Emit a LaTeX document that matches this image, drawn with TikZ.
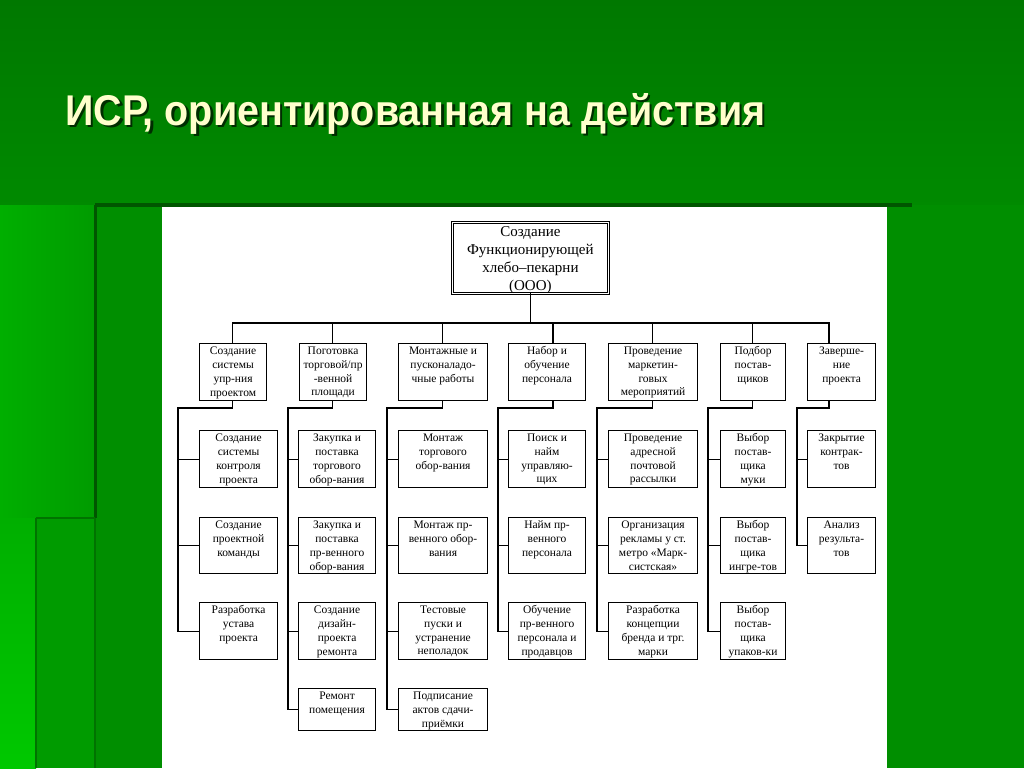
\documentclass[tikz,border=0pt]{standalone}
\usepackage{fontspec}
\usepackage{graphicx}
\setmainfont{Liberation Serif}
\newfontfamily\titlefont{Liberation Sans}
\usetikzlibrary{calc}
\definecolor{gtop}{RGB}{0,120,0}
\definecolor{gmid}{RGB}{0,138,0}
\definecolor{gleft}{RGB}{0,175,0}
\definecolor{gleftb}{RGB}{0,200,0}
\definecolor{gstrip}{RGB}{0,155,0}
\definecolor{gpanel}{RGB}{0,142,0}
\definecolor{gedge}{RGB}{0,85,0}
\definecolor{gedge2}{RGB}{0,115,0}
\definecolor{tyellow}{RGB}{255,255,204}
\definecolor{tshadow}{RGB}{0,45,0}
\tikzset{
  wb/.style={draw, line width=1.1pt, fill=white, inner sep=0pt, anchor=north west},
  tx/.style={anchor=north, align=center, inner sep=0pt, font=\fontsize{11.5}{13.9}\selectfont},
  ln/.style={line width=1.1pt, line cap=rect}
}
\newcommand\wbx[6]{%
  \node[wb, minimum width=#4pt, minimum height=#5pt] (#1) at (#2,#3) {};
  \node[tx] (#1t) at ([yshift=-3.5pt]#1.north) {#6};}
\begin{document}
\begin{tikzpicture}[x=1pt,y=-1pt]
\useasboundingbox (0,0) rectangle (1024,768);
% background
\shade[top color=gtop, bottom color=gmid] (0,0) rectangle (1024,207);
\shade[left color=gleft, right color=gstrip] (0,205) rectangle (95,518);
\shade[top color=gleft, bottom color=gleftb] (0,518) rectangle (36,768);
\fill[gstrip] (36,518) rectangle (95,768);
\fill[gpanel] (95,205) rectangle (1024,768);
\draw[gedge, line width=4pt] (95,205) -- (912,205);
\draw[gedge, line width=3pt] (95,205) -- (95,518);
\draw[gedge2, line width=2pt] (36,518) -- (95,518);
\draw[gedge2, line width=1.5pt] (36,518) -- (36,768);
\draw[gedge2, line width=1.5pt] (95,518) -- (95,768);
\fill[white] (162,207) rectangle (887,768);
% title
\node[anchor=base west, inner sep=0pt, text=tshadow, font=\titlefont\bfseries\fontsize{43}{43}\selectfont] (titleshadow) at (67.5,127.5) {\resizebox{700pt}{\height}{ИСР, ориентированная на действия}};
\node[anchor=base west, inner sep=0pt, text=tyellow, font=\titlefont\bfseries\fontsize{43}{43}\selectfont] (title) at (65,125) {\resizebox{700pt}{\height}{ИСР, ориентированная на действия}};
% top box
\node[anchor=north west, draw, double, double distance=1.6pt, line width=0.8pt, fill=white, minimum width=156pt, minimum height=71pt, inner sep=0pt] (top) at (452,222) {};
\node[anchor=north, align=center, inner sep=0pt, font=\fontsize{15}{18}\selectfont] (topt) at ([yshift=-4pt]top.north) {Создание\\Функционирующей\\хлебо–пекарни\\(ООО)};
% level 1
\wbx{L1}{199}{343}{67}{57}{Создание\\системы\\упр-ния\\проектом}
\wbx{L2}{299}{343}{67}{57}{Поготовка\\торговой/пр\\-венной\\площади}
\wbx{L3}{398}{343}{89}{57}{Монтажные и\\пусконаладо-\\чные работы}
\wbx{L4}{508}{343}{77}{57}{Набор и\\обучение\\персонала}
\wbx{L5}{608}{343}{89}{57}{Проведение\\маркетин-\\говых\\мероприятий}
\wbx{L6}{720}{343}{65}{57}{Подбор\\постав-\\щиков}
\wbx{L7}{807}{343}{68}{57}{Заверше-\\ние\\проекта}
% column 1
\wbx{A1}{199}{430}{78}{57}{Создание\\системы\\контроля\\проекта}
\wbx{A2}{199}{517}{78}{56}{Создание\\проектной\\команды}
\wbx{A3}{199}{602}{78}{57}{Разработка\\устава\\проекта}
% column 2
\wbx{B1}{298}{430}{77}{57}{Закупка и\\поставка\\торгового\\обор-вания}
\wbx{B2}{298}{517}{77}{56}{Закупка и\\поставка\\пр-венного\\обор-вания}
\wbx{B3}{298}{602}{77}{57}{Создание\\дизайн-\\проекта\\ремонта}
\wbx{B4}{298}{688}{77}{42}{Ремонт\\помещения}
% column 3
\wbx{C1}{398}{430}{89}{57}{Монтаж\\торгового\\обор-вания}
\wbx{C2}{398}{517}{89}{56}{Монтаж пр-\\венного обор-\\вания}
\wbx{C3}{398}{602}{89}{57}{Тестовые\\пуски и\\устранение\\неполадок}
\wbx{C4}{398}{688}{89}{42}{Подписание\\актов сдачи-\\приёмки}
% column 4
\wbx{D1}{508}{430}{77}{57}{Поиск и\\найм\\управляю-\\щих}
\wbx{D2}{508}{517}{77}{56}{Найм пр-\\венного\\персонала}
\wbx{D3}{508}{602}{77}{57}{Обучение\\пр-венного\\персонала и\\продавцов}
% column 5
\wbx{E1}{608}{430}{89}{57}{Проведение\\адресной\\почтовой\\рассылки}
\wbx{E2}{608}{517}{89}{56}{Организация\\рекламы у ст.\\метро «Марк-\\систская»}
\wbx{E3}{608}{602}{89}{57}{Разработка\\концепции\\бренда и трг.\\марки}
% column 6
\wbx{F1}{720}{430}{65}{57}{Выбор\\постав-\\щика\\муки}
\wbx{F2}{720}{517}{65}{56}{Выбор\\постав-\\щика\\ингре-тов}
\wbx{F3}{720}{602}{65}{57}{Выбор\\постав-\\щика\\упаков-ки}
% column 7
\wbx{G1}{807}{430}{68}{57}{Закрытие\\контрак-\\тов}
\wbx{G2}{807}{517}{68}{56}{Анализ\\результа-\\тов}
% connectors
\coordinate (bus) at (0,323);
\coordinate (s1) at (232.5,323);
\coordinate (s2) at (332.5,323);
\coordinate (s3) at (442.5,323);
\coordinate (s4) at (553,323);
\coordinate (s5) at (652.5,323);
\coordinate (s6) at (752.5,323);
\coordinate (s7) at (829,323);
\draw[ln] (top.south) -- (top.south |- bus);
\draw[ln] (s1) -- (s7);
\foreach \s/\n in {s1/L1,s2/L2,s3/L3,s4/L4,s5/L5,s6/L6,s7/L7} \draw[ln] (\s) -- (\s |- \n.north);
\coordinate (r1) at (178,408);
\coordinate (r2) at (288,408);
\coordinate (r3) at (387,408);
\coordinate (r4) at (498,408);
\coordinate (r5) at (597,408);
\coordinate (r6) at (708,408);
\coordinate (r7) at (797,408);
\draw[ln] (s1 |- L1.south) |- (r1) |- (A3.west);
\draw[ln] (s2 |- L2.south) |- (r2) |- (B4.west);
\draw[ln] (s3 |- L3.south) |- (r3) |- (C4.west);
\draw[ln] (s4 |- L4.south) |- (r4) |- (D3.west);
\draw[ln] (s5 |- L5.south) |- (r5) |- (E3.west);
\draw[ln] (s6 |- L6.south) |- (r6) |- (F3.west);
\draw[ln] (s7 |- L7.south) |- (r7) |- (G2.west);
\foreach \r/\b in {r1/A1,r1/A2,r2/B1,r2/B2,r2/B3,r3/C1,r3/C2,r3/C3,r4/D1,r4/D2,r5/E1,r5/E2,r6/F1,r6/F2,r7/G1}
  \draw[ln] (\r |- \b.west) -- (\b.west);
\end{tikzpicture}
\end{document}
